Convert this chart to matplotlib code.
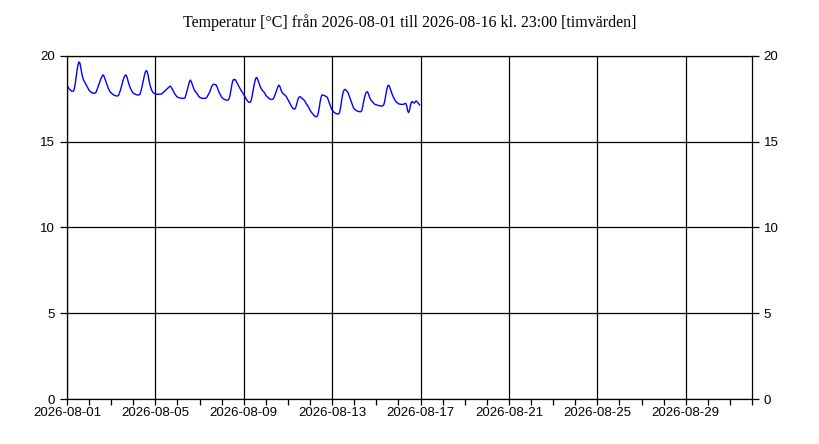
import numpy as np
import pandas as pd
import matplotlib
matplotlib.use('Agg')
import matplotlib.pyplot as plt
import matplotlib.dates as mdates

plt.rcParams['font.family'] = ['Liberation Sans', 'DejaVu Sans']

# hourly temperatures, one row per day (2026-08-01 .. 2026-08-16)
day01 = [18.3, 18.2, 18.1, 18.05, 18.0, 17.95, 17.95, 17.95, 18.1, 18.4, 18.8, 19.2, 19.5, 19.65, 19.6, 19.3, 19.0, 18.75, 18.6, 18.5, 18.4, 18.3, 18.2, 18.1]
day02 = [18.0, 17.95, 17.9, 17.85, 17.85, 17.83, 17.83, 17.85, 17.95, 18.1, 18.25, 18.4, 18.55, 18.7, 18.8, 18.9, 18.85, 18.7, 18.55, 18.4, 18.25, 18.1, 18.0, 17.9]
day03 = [17.85, 17.8, 17.75, 17.72, 17.7, 17.68, 17.67, 17.67, 17.7, 17.85, 18.0, 18.2, 18.4, 18.6, 18.75, 18.85, 18.9, 18.8, 18.6, 18.4, 18.25, 18.1, 18.0, 17.9]
day04 = [17.85, 17.8, 17.78, 17.75, 17.73, 17.73, 17.73, 17.75, 17.9, 18.1, 18.35, 18.6, 18.85, 19.05, 19.15, 19.1, 18.9, 18.6, 18.35, 18.15, 18.0, 17.9, 17.85, 17.82]
day05 = [17.8, 17.78, 17.77, 17.77, 17.77, 17.77, 17.78, 17.8, 17.85, 17.9, 17.95, 18.0, 18.05, 18.1, 18.15, 18.2, 18.25, 18.2, 18.1, 18.0, 17.9, 17.8, 17.72, 17.65]
day06 = [17.6, 17.58, 17.56, 17.55, 17.54, 17.53, 17.53, 17.53, 17.55, 17.7, 17.9, 18.1, 18.3, 18.5, 18.6, 18.5, 18.35, 18.2, 18.05, 17.95, 17.88, 17.83, 17.75, 17.65]
day07 = [17.6, 17.57, 17.55, 17.53, 17.53, 17.53, 17.53, 17.55, 17.6, 17.7, 17.8, 17.9, 18.05, 18.2, 18.3, 18.35, 18.35, 18.33, 18.3, 18.2, 18.05, 17.9, 17.8, 17.7]
day08 = [17.6, 17.55, 17.5, 17.47, 17.45, 17.43, 17.43, 17.43, 17.5, 17.7, 18.0, 18.3, 18.55, 18.64, 18.6, 18.62, 18.5, 18.4, 18.3, 18.2, 18.1, 18.0, 17.92, 17.85]
day09 = [17.75, 17.65, 17.55, 17.45, 17.38, 17.33, 17.3, 17.3, 17.4, 17.65, 17.95, 18.25, 18.5, 18.7, 18.75, 18.65, 18.5, 18.35, 18.2, 18.1, 18.0, 17.95, 17.9, 17.8]
day10 = [17.7, 17.65, 17.6, 17.55, 17.5, 17.48, 17.47, 17.47, 17.5, 17.6, 17.75, 17.9, 18.05, 18.2, 18.3, 18.25, 18.1, 17.95, 17.85, 17.8, 17.75, 17.7, 17.65, 17.55]
day11 = [17.45, 17.35, 17.25, 17.15, 17.05, 16.97, 16.92, 16.9, 16.95, 17.1, 17.3, 17.5, 17.6, 17.63, 17.6, 17.55, 17.5, 17.45, 17.4, 17.3, 17.2, 17.14, 17.05, 16.95]
day12 = [16.85, 16.75, 16.68, 16.6, 16.55, 16.5, 16.47, 16.46, 16.5, 16.7, 17.0, 17.35, 17.6, 17.73, 17.72, 17.7, 17.68, 17.65, 17.63, 17.55, 17.4, 17.25, 17.1, 16.95]
day13 = [16.85, 16.78, 16.72, 16.68, 16.65, 16.63, 16.62, 16.62, 16.7, 16.95, 17.3, 17.65, 17.9, 18.02, 18.06, 18.0, 17.95, 17.9, 17.75, 17.6, 17.45, 17.3, 17.15, 17.0]
day14 = [16.92, 16.87, 16.83, 16.8, 16.78, 16.76, 16.75, 16.75, 16.8, 17.0, 17.3, 17.55, 17.75, 17.88, 17.92, 17.85, 17.7, 17.55, 17.45, 17.38, 17.3, 17.25, 17.2, 17.17]
day15 = [17.15, 17.14, 17.12, 17.1, 17.1, 17.08, 17.08, 17.1, 17.15, 17.35, 17.65, 17.95, 18.2, 18.3, 18.25, 18.1, 17.95, 17.8, 17.65, 17.55, 17.45, 17.38, 17.3, 17.26]
day16 = [17.22, 17.2, 17.19, 17.18, 17.18, 17.18, 17.2, 17.22, 17.24, 17.1, 16.8, 16.7, 16.85, 17.1, 17.3, 17.35, 17.3, 17.25, 17.3, 17.38, 17.35, 17.28, 17.2, 17.15]

temps = (day01 + day02 + day03 + day04 + day05 + day06 + day07 + day08
         + day09 + day10 + day11 + day12 + day13 + day14 + day15 + day16)
times = pd.date_range('2026-08-01 00:00', periods=len(temps), freq='h')

date_ticks = ['2026-08-01', '2026-08-05', '2026-08-09', '2026-08-13',
              '2026-08-17', '2026-08-21', '2026-08-25', '2026-08-29']

fig = plt.figure(figsize=(8.2, 4.44), dpi=100)
ax = fig.add_axes([67 / 820, 45 / 444, 685 / 820, 343 / 444])

ax.plot(times, temps, color='#0000ff', linewidth=1)

ax.set_xlim(pd.Timestamp('2026-08-01'), pd.Timestamp('2026-09-01'))
ax.set_ylim(0, 20)
ax.set_yticks([0, 5, 10, 15, 20])

ax.set_xticks(pd.to_datetime(date_ticks))
ax.xaxis.set_minor_locator(mdates.DayLocator())
ax.xaxis.set_major_formatter(mdates.DateFormatter('%Y-%m-%d'))

ax.grid(True, which='major', color='black', linewidth=0.9)
ax.tick_params(axis='x', which='both', direction='out', length=4, width=0.9, labelsize=9.5, pad=2)
ax.tick_params(axis='y', direction='out', length=5, width=0.9, labelsize=9.5,
               right=True, labelright=True)
for s in ax.spines.values():
    s.set_linewidth(0.9)

fig.suptitle('Temperatur [°C] från 2026-08-01 till 2026-08-16 kl. 23:00 [timvärden]',
             family=['Liberation Serif', 'DejaVu Serif'], fontsize=11.5, y=0.968)

fig.savefig('out.png', dpi=100)
